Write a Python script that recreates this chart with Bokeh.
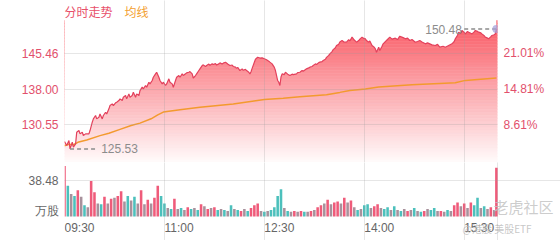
import numpy as np
from bokeh.plotting import figure
from bokeh.layouts import column, row
from bokeh.models import (Range1d, LinearAxis, FixedTicker, PrintfTickFormatter, Grid)
from bokeh.embed import file_html
from bokeh.resources import INLINE
from bokeh.core.properties import value

# ---------------- data ----------------
prev_close = 120.2
price_ticks = [130.55, 138.00, 145.46]
pct_ticks = [8.61, 14.81, 21.01]
vol_tick = 38.48
time_ticks = [0, 90, 180, 270, 360]
time_labels = ["09:30", "11:00", "12:30", "14:00", "15:30"]
legend_texts = ["分时走势", "均线"]
watermark_texts = ["老虎社区", "@港股 美股ETF"]

price_minutes = [0, 2, 4, 5, 7, 8, 10, 11, 13, 14, 16, 17, 19, 22, 23, 25, 26, 28, 29, 31, 32, 34, 35, 37, 38,
                 40, 41, 43, 44, 46, 47, 49, 50, 52, 53, 55, 56, 58, 59, 61, 62, 64, 65, 67, 68, 70, 71, 73, 74,
                 76, 77, 79, 80, 82, 83, 85, 86, 88, 89, 91, 92, 94, 95, 97, 98, 100, 101, 103, 104, 106, 107,
                 109, 110, 112, 113, 115, 116, 118, 119, 121, 122, 124, 125, 127, 128, 130, 131, 133, 134, 136,
                 137, 139, 140, 142, 143, 145, 147, 149, 151, 152, 154, 155, 156, 158, 160, 161, 163, 164, 166,
                 167, 168, 169, 171, 172, 174, 176, 178, 180, 182, 184, 185, 187, 189, 190, 192, 193, 194, 195,
                 196, 198, 199, 201, 203, 205, 206, 209, 210, 212, 214, 215, 218, 220, 221, 223, 224, 226, 227,
                 229, 230, 232, 233, 235, 236, 238, 239, 241, 242, 244, 245, 247, 248, 250, 252, 254, 256, 257,
                 259, 261, 263, 265, 266, 268, 269, 271, 272, 274, 275, 277, 279, 280, 281, 283, 284, 286, 287,
                 290, 293, 295, 298, 300, 302, 305, 307, 309, 311, 313, 316, 318, 320, 322, 325, 327, 329, 331,
                 334, 336, 338, 341, 343, 346, 349, 351, 352, 354, 355, 357, 358, 360, 361, 363, 364, 366, 367,
                 369, 370, 372, 373, 375, 376, 378, 379, 381, 382, 384, 385, 387, 388, 389]
price_values = [127.06, 126.23, 127.27, 125.53, 126.92, 125.88, 126.57, 129.0, 129.35, 128.66, 129.0, 128.31,
                128.66, 128.66, 129.35, 131.09, 131.78, 132.48, 131.78, 132.13, 132.82, 131.78, 132.48, 133.17,
                132.82, 133.87, 134.56, 134.91, 134.56, 135.12, 135.25, 135.6, 135.95, 135.6, 136.3, 136.64,
                135.95, 136.99, 136.3, 136.64, 137.34, 136.3, 136.99, 136.64, 137.68, 138.38, 138.03, 138.73,
                138.38, 139.42, 139.07, 139.77, 140.46, 141.16, 141.5, 140.46, 139.77, 139.07, 139.42, 138.73,
                139.07, 140.12, 139.42, 139.07, 138.38, 139.77, 140.46, 140.81, 140.46, 141.16, 140.81, 141.16,
                141.37, 141.5, 141.64, 141.16, 140.3, 140.81, 141.16, 141.85, 142.2, 142.89, 143.03, 142.7,
                142.9, 143.2, 142.95, 143.24, 143.1, 143.3, 143.0, 143.24, 143.45, 143.2, 143.4, 143.59, 143.2,
                142.9, 143.0, 142.7, 142.55, 142.3, 142.5, 141.85, 142.2, 141.9, 142.1, 141.85, 141.5, 141.16,
                141.6, 142.3, 143.59, 144.2, 144.63, 144.45, 144.49, 144.3, 144.08, 143.8, 143.6, 143.24, 142.5,
                141.85, 139.77, 139.4, 138.73, 140.5, 141.16, 141.0, 141.5, 141.1, 140.81, 141.1, 141.0, 141.16,
                141.4, 141.5, 141.85, 141.7, 142.2, 142.4, 142.55, 142.7, 142.9, 143.24, 143.1, 143.5, 143.6,
                143.7, 143.94, 144.2, 144.6, 145.0, 145.33, 145.8, 146.2, 146.6, 147.06, 147.3, 147.8, 148.1,
                147.76, 147.76, 148.3, 148.0, 148.8, 148.2, 147.76, 148.1, 148.4, 148.8, 148.6, 148.45, 148.1,
                147.75, 148.0, 147.06, 146.7, 146.36, 145.67, 146.71, 146.02, 146.9, 147.41, 148.1, 148.8,
                148.4, 148.59, 148.3, 149.0, 148.7, 148.45, 148.6, 148.1, 148.3, 147.75, 147.9, 148.1, 147.8,
                147.41, 147.6, 147.41, 147.2, 147.06, 147.3, 146.71, 146.9, 146.71, 147.06, 147.41, 147.9,
                148.45, 149.2, 149.84, 149.6, 150.19, 149.8, 149.49, 150.0, 149.84, 149.6, 149.49, 149.9,
                150.19, 150.0, 149.84, 149.7, 149.49, 149.1, 148.8, 148.6, 148.45, 148.9, 149.14, 149.3,
                149.49, 150.48]

avg_minutes = [0, 4, 8, 12, 20, 32, 40, 50, 60, 68, 78, 84, 89, 104, 122, 152, 180, 197, 212, 236, 248,
               257, 271, 283, 313, 352, 361, 389]
avg_values = [126.2, 126.5, 126.4, 126.9, 127.4, 128.3, 128.8, 129.6, 130.4, 130.9, 131.8, 132.6, 133.2,
              133.7, 134.2, 134.9, 135.8, 136.1, 136.4, 136.8, 137.3, 137.7, 138.0, 138.4, 138.9, 139.3,
              139.8, 140.3]

vol_minutes = list(range(0, 390, 3)) + [389]
vol_values = [54, 33, 24, 22, 28, 21, 12, 10, 38, 26,
              14, 13, 21, 14, 19, 20, 22, 27, 16, 22,
              17, 21, 14, 28, 13, 18, 14, 20, 33, 22,
              14, 9, 8, 19, 8, 9, 7, 10, 8, 9,
              7, 13, 11, 8, 9, 10, 7, 8, 7, 6,
              12, 8, 7, 6, 8, 6, 9, 12, 14, 6,
              5, 6, 7, 10, 22, 29, 9, 6, 5, 6,
              5, 6, 5, 5, 6, 7, 10, 12, 14, 18,
              13, 15, 16, 14, 20, 15, 17, 10, 7, 8,
              12, 13, 9, 11, 13, 9, 8, 10, 7, 11,
              7, 6, 8, 6, 7, 9, 6, 5, 6, 8,
              7, 9, 6, 6, 5, 7, 6, 12, 15, 11,
              14, 9, 15, 12, 20, 9, 11, 8, 10, 7,
              52]
vol_dirs = ("rtgtrgtgrr" "gtrgrgrrgt" "gtgrgrgrrt" "tgtrgtgrtg" "trgrgrtgtg" "tgtrgtrrrg"
            "tgttttgtgr" "grtgrgrrgr" "grrgrgrgtg" "ttgrrgttgt" "gtgrgtgtrg" "ttgrgtgrrg"
            "rgrttgtgrg" "r")

# ---------------- layout constants ----------------
X_END = 390                      # 09:30 -> 16:00
PX_PER_MIN = 433 / X_END
Y_LO, Y_HI = 122.70, 152.27      # price panel (gridded area)
PX_PER_PRICE = 142 / (Y_HI - Y_LO)
Y_TOP = Y_HI + 20 / PX_PER_PRICE  # header strip above the panel
VOL_PX = 36 / vol_tick
VOL_TOP = 54 / VOL_PX
VOL_BOT = -24 / VOL_PX
BOT_X_END = 496 / PX_PER_MIN      # volume frame runs to the right edge (watermark lives there)

RED = "#e3415c"
LABEL_RED = "#e2506c"
GRAY = "#666666"
NUM_FONT = "Liberation Sans"
CJK_FONT = "Noto Sans CJK SC"
dir_colors = {"r": "#ef5b7a", "t": "#4cc0bc", "g": "#a8919c"}
grid_kw = dict(grid_line_color="#9a9a9a", grid_line_alpha=0.25, level="overlay")

# ---------------- price panel ----------------
top = figure(width=560, height=162, x_range=Range1d(0, X_END), y_range=Range1d(Y_LO, Y_TOP),
             output_backend="svg", toolbar_location=None, x_axis_location=None,
             min_border_left=64, min_border_right=63, min_border_top=0, min_border_bottom=0,
             outline_line_color=None, background_fill_color="white", border_fill_color="white")
top.xgrid.visible = False
top.ygrid.visible = False

n_bands = 48
edges = np.linspace(Y_LO, Y_HI, n_bands + 1)
c_bot = np.array([255, 252, 252])
c_top = np.array([249, 88, 98])
band_colors = []
for k in range(n_bands):
    f = (k + 0.5) / n_bands
    c = c_bot + (c_top - c_bot) * f
    band_colors.append("#%02x%02x%02x" % tuple(int(round(v)) for v in c))
top.quad(left=0, right=X_END, bottom=edges[:-1], top=edges[1:], fill_color=band_colors,
         line_color=band_colors, line_width=0.6)
top.varea(x=price_minutes, y1=price_values, y2=Y_TOP + 5, fill_color="white")

top.line(avg_minutes, avg_values, line_color="#f39a2e", line_width=1.5)
top.line(price_minutes, price_values, line_color=RED, line_width=1.2)

i_min = int(np.argmin(price_values))
i_max = int(np.argmax(price_values))
m_min, p_min = price_minutes[i_min], price_values[i_min]
m_max, p_max = price_minutes[i_max], price_values[i_max]
top.segment(x0=[m_min], y0=[p_min], x1=[m_min + 24], y1=[p_min], line_color="#8c8c8c",
            line_width=1.5, line_dash="4 3")
top.text(x=[m_min + 28], y=[p_min], text=["%.2f" % p_min], text_color="#8c8c8c",
         text_font=value(NUM_FONT), text_font_size="12px", text_baseline="middle", text_align="left")
top.segment(x0=[m_max - 29], y0=[p_max], x1=[m_max], y1=[p_max], line_color="#8c8c8c",
            line_width=1.5, line_dash="4 3")
top.text(x=[m_max - 31], y=[p_max], text=["%.2f" % p_max], text_color="#8c8c8c",
         text_font=value(NUM_FONT), text_font_size="12px", text_baseline="middle", text_align="right")
top.scatter(x=[price_minutes[-1]], y=[price_values[-1]], size=8, fill_color="#a7a1d9",
            fill_alpha=0.75, line_color=None)

leg_y = Y_HI + 9.5 / PX_PER_PRICE
top.text(x=[0, 60 / PX_PER_MIN], y=[leg_y, leg_y], text=legend_texts,
         text_color=["#e8506a", "#f3a030"], text_font=value(CJK_FONT), text_font_size="12px",
         text_baseline="middle", text_align="left")

top.add_layout(Grid(dimension=0, ticker=FixedTicker(ticks=time_ticks + [X_END]),
                    bounds=(Y_LO, Y_HI), **grid_kw))
top.add_layout(Grid(dimension=1, ticker=FixedTicker(ticks=price_ticks), **grid_kw))

ya = top.yaxis[0]
ya.ticker = FixedTicker(ticks=price_ticks)
ya.formatter = PrintfTickFormatter(format="%.2f")
top.extra_y_ranges = {"pct": Range1d((Y_LO / prev_close - 1) * 100, (Y_TOP / prev_close - 1) * 100)}
ra = LinearAxis(y_range_name="pct", ticker=FixedTicker(ticks=pct_ticks),
                formatter=PrintfTickFormatter(format="%.2f%%"))
top.add_layout(ra, "right")
for ax in (ya, ra):
    ax.axis_line_color = None
    ax.major_tick_line_color = None
    ax.minor_tick_line_color = None
    ax.major_tick_out = 0
    ax.major_label_standoff = 6
    ax.major_label_text_color = LABEL_RED
    ax.major_label_text_font = NUM_FONT
    ax.major_label_text_font_size = "12px"

# ---------------- volume panel ----------------
bot = figure(width=560, height=78, x_range=Range1d(0, BOT_X_END), y_range=Range1d(VOL_BOT, VOL_TOP),
             output_backend="svg", toolbar_location=None, x_axis_location=None,
             min_border_left=64, min_border_right=0, min_border_top=0, min_border_bottom=0,
             outline_line_color=None, background_fill_color="white", border_fill_color="white")
bot.xgrid.visible = False
bot.ygrid.visible = False
bar_colors = [dir_colors[d] for d in vol_dirs]
bot.vbar(x=vol_minutes, top=vol_values, width=2.3, bottom=0, fill_color=bar_colors,
         line_color=None)
bot.add_layout(Grid(dimension=0, ticker=FixedTicker(ticks=time_ticks + [X_END]),
                    bounds=(0, VOL_TOP), **grid_kw))
bot.add_layout(Grid(dimension=1, ticker=FixedTicker(ticks=[vol_tick]), bounds=(0, X_END), **grid_kw))

lab_y = -11 / VOL_PX
bot.text(x=time_ticks, y=[lab_y] * len(time_ticks), text=time_labels, text_color=GRAY,
         text_font=value(NUM_FONT), text_font_size="12px", text_baseline="middle", text_align="left")

vy = bot.yaxis[0]
vy.ticker = FixedTicker(ticks=[6, vol_tick])
vy.formatter = PrintfTickFormatter(format="%.2f")
vy.major_label_overrides = {6: "万股"}
vy.axis_line_color = None
vy.major_tick_line_color = None
vy.minor_tick_line_color = None
vy.major_tick_out = 0
vy.major_label_standoff = 6
vy.major_label_text_color = GRAY
vy.major_label_text_font = NUM_FONT
vy.major_label_text_font_size = "12px"

bot.text(x=[429 / PX_PER_MIN, 398 / PX_PER_MIN], y=[10 / VOL_PX, -12 / VOL_PX], text=watermark_texts,
         text_color=["#c4c4c4", "#bdbdbd"], text_alpha=0.85, text_font=value(CJK_FONT),
         text_font_size=["15px", "10px"], text_baseline="middle", text_align="left")

# nested row keeps the volume frame independent of the price frame's right border
layout = column(top, row(bot, spacing=0), spacing=0)
open("out.html", "w").write(file_html(layout, INLINE))
